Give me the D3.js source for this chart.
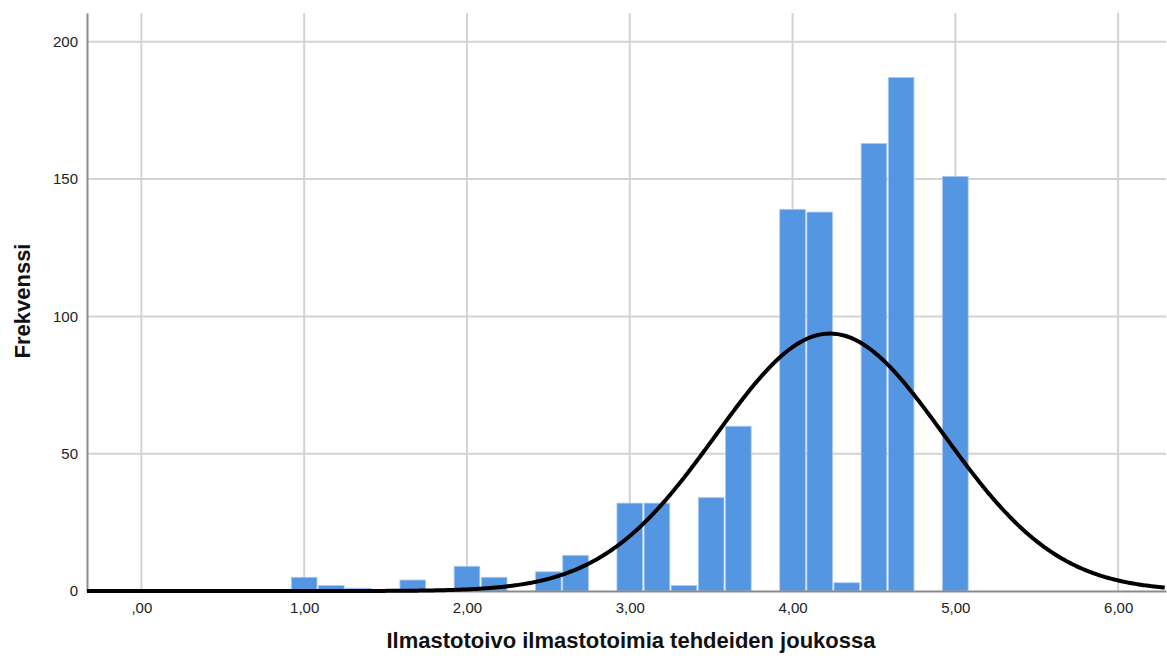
<!DOCTYPE html>
<html>
<head>
<meta charset="utf-8">
<script src="https://cdn.jsdelivr.net/npm/d3@7"></script>
<style>
  html, body { margin: 0; padding: 0; background: #ffffff; }
  svg { display: block; }
  text { font-family: "Liberation Sans", Arial, sans-serif; }
</style>
</head>
<body>
<svg id="chart" width="1167" height="666"></svg>
<script>
// Histogram bins (midpoints) and their frequencies
const binMidpoints = [1.000, 1.167, 1.333, 1.667, 2.000, 2.167, 2.500, 2.667, 3.000, 3.167,
                      3.333, 3.500, 3.667, 4.000, 4.167, 4.333, 4.500, 4.667, 5.000];
const frequencies  = [5, 2, 1, 4, 9, 5, 7, 13, 32, 32,
                      2, 34, 60, 139, 138, 3, 163, 187, 151];
const binWidth = 1 / 6;

// Fitted normal curve parameters
const normalMean = 4.23;
const normalSd = 0.70;

// Axis ticks and labels
const xTickValues = [0, 1, 2, 3, 4, 5, 6];
const xTickLabels = [",00", "1,00", "2,00", "3,00", "4,00", "5,00", "6,00"];
const yTickValues = [0, 50, 100, 150, 200];
const xDomain = [-0.334, 6.294];
const yDomain = [0, 210.5];

const xTitle = "Ilmastotoivo ilmastotoimia tehdeiden joukossa";
const yTitle = "Frekvenssi";

const svg = d3.select("#chart");
const plot = { left: 87, right: 1166, top: 13, bottom: 591 };

const x = d3.scaleLinear().domain(xDomain).range([plot.left, plot.right]);
const y = d3.scaleLinear().domain(yDomain).range([plot.bottom, plot.top]);

const gridColor = "#d3d3d3";

// Horizontal grid lines
svg.append("g")
  .selectAll("line")
  .data(yTickValues.filter(v => v > 0))
  .join("line")
  .attr("x1", plot.left).attr("x2", plot.right)
  .attr("y1", d => y(d)).attr("y2", d => y(d))
  .attr("stroke", gridColor).attr("stroke-width", 2);

// Vertical grid lines
svg.append("g")
  .selectAll("line")
  .data(xTickValues)
  .join("line")
  .attr("x1", d => x(d)).attr("x2", d => x(d))
  .attr("y1", plot.top).attr("y2", plot.bottom)
  .attr("stroke", gridColor).attr("stroke-width", 2);

// Bars
const bars = binMidpoints.map((m, i) => ({ x0: m - binWidth / 2, x1: m + binWidth / 2, n: frequencies[i] }));
svg.append("g")
  .selectAll("rect")
  .data(bars)
  .join("rect")
  .attr("x", d => x(d.x0) + 0.75)
  .attr("width", d => x(d.x1) - x(d.x0) - 1.5)
  .attr("y", d => y(d.n))
  .attr("height", d => y(0) - y(d.n))
  .attr("fill", "#5596e3")
  .attr("stroke", "#a9c9f2")
  .attr("stroke-width", 0.8);

// Axes
const xAxis = d3.axisBottom(x)
  .tickValues(xTickValues)
  .tickFormat((d, i) => xTickLabels[i])
  .tickSize(0)
  .tickPadding(11);
const gx = svg.append("g")
  .attr("transform", `translate(0,${plot.bottom})`)
  .call(xAxis);
gx.select(".domain").attr("stroke", "#8a8a8a").attr("stroke-width", 2);
gx.selectAll("text").attr("font-size", 15).attr("fill", "#222")
  .style("font-family", "'Liberation Sans', Arial, sans-serif");

const yAxis = d3.axisLeft(y)
  .tickValues(yTickValues)
  .tickSize(0)
  .tickPadding(9);
const gy = svg.append("g")
  .attr("transform", `translate(${plot.left},0)`)
  .call(yAxis);
gy.select(".domain").attr("stroke", "#8a8a8a").attr("stroke-width", 2);
gy.selectAll("text").attr("font-size", 15).attr("fill", "#222")
  .style("font-family", "'Liberation Sans', Arial, sans-serif");

// Normal curve scaled to the histogram counts
const total = d3.sum(frequencies);
const density = v => total * binWidth / (normalSd * Math.sqrt(2 * Math.PI)) *
  Math.exp(-0.5 * Math.pow((v - normalMean) / normalSd, 2));
const curveX = d3.range(xDomain[0], xDomain[1] + 0.001, 0.01);
const line = d3.line().x(v => x(v)).y(v => y(density(v))).curve(d3.curveBasis);
svg.append("path")
  .datum(curveX)
  .attr("d", line)
  .attr("fill", "none")
  .attr("stroke", "#000")
  .attr("stroke-width", 4)
  .attr("stroke-linejoin", "round");

// Axis titles
svg.append("text")
  .attr("x", 631)
  .attr("y", 648)
  .attr("text-anchor", "middle")
  .attr("font-size", 22)
  .attr("font-weight", "bold")
  .attr("fill", "#111")
  .text(xTitle);

svg.append("text")
  .attr("transform", "translate(30,301) rotate(-90)")
  .attr("text-anchor", "middle")
  .attr("font-size", 22)
  .attr("font-weight", "bold")
  .attr("fill", "#111")
  .text(yTitle);
</script>
</body>
</html>
